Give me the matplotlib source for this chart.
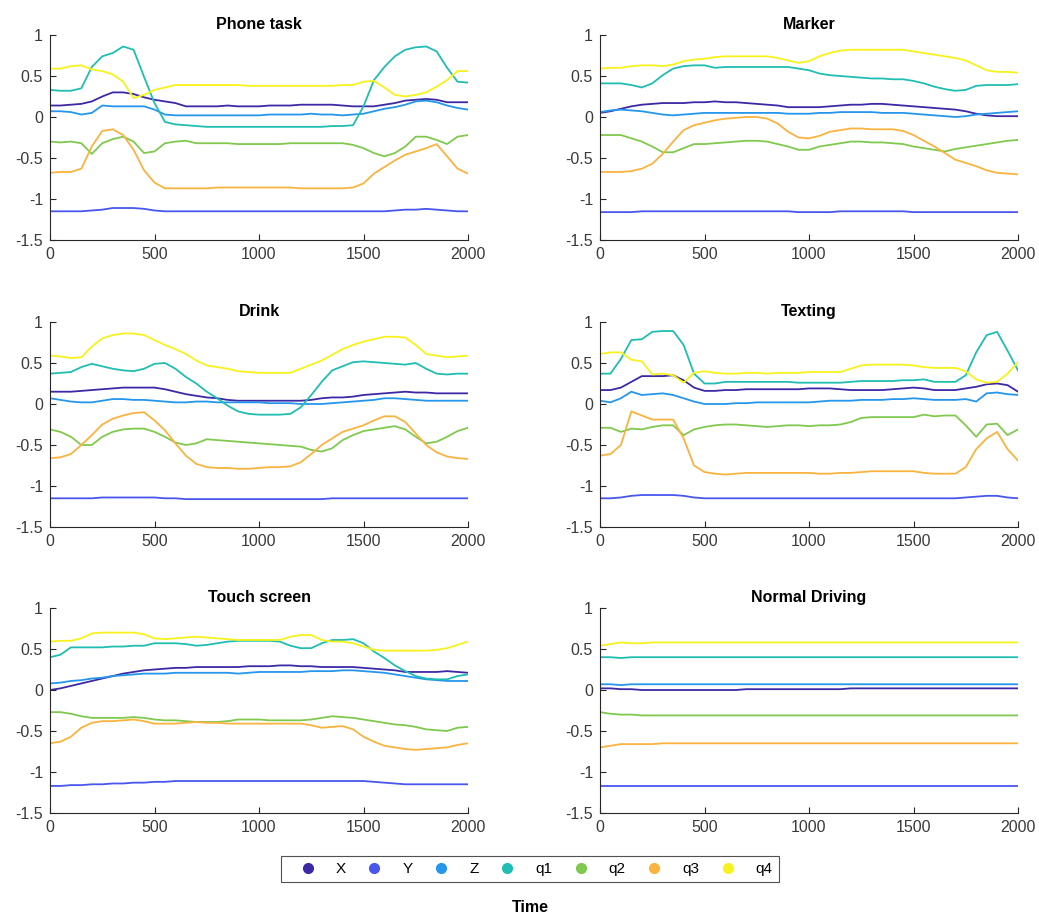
import numpy as np
import matplotlib
matplotlib.use("Agg")
import matplotlib.pyplot as plt
from matplotlib.lines import Line2D

plt.rcParams['font.family'] = ['Liberation Sans', 'DejaVu Sans']
plt.rcParams['axes.unicode_minus'] = False

# sample times shared by every panel (one reading every 50 samples)
t = np.arange(0, 2001, 50)

series_names = ["X", "Y", "Z", "q1", "q2", "q3", "q4"]
series_colors = ["#3d28a6", "#4856ee", "#2596ec", "#1fbdb2", "#80c94f", "#fbb33f", "#f7f21c"]
panel_titles = ["Phone task", "Marker", "Drink", "Texting", "Touch screen", "Normal Driving"]

# ---- Phone task ----
phone_X = [0.14, 0.14, 0.15, 0.16, 0.19, 0.25, 0.30, 0.30, 0.28, 0.24,
           0.21, 0.19, 0.17, 0.13, 0.13, 0.13, 0.13, 0.14, 0.13, 0.13,
           0.13, 0.14, 0.14, 0.14, 0.15, 0.15, 0.15, 0.15, 0.14, 0.13,
           0.13, 0.13, 0.15, 0.17, 0.20, 0.21, 0.22, 0.21, 0.18, 0.18,
           0.18]
phone_Y = [-1.15, -1.15, -1.15, -1.15, -1.14, -1.13, -1.11, -1.11, -1.11, -1.12,
           -1.14, -1.15, -1.15, -1.15, -1.15, -1.15, -1.15, -1.15, -1.15, -1.15,
           -1.15, -1.15, -1.15, -1.15, -1.15, -1.15, -1.15, -1.15, -1.15, -1.15,
           -1.15, -1.15, -1.15, -1.14, -1.13, -1.13, -1.12, -1.13, -1.14, -1.15,
           -1.15]
phone_Z = [0.07, 0.07, 0.06, 0.03, 0.05, 0.14, 0.13, 0.13, 0.13, 0.13,
           0.09, 0.03, 0.02, 0.02, 0.02, 0.02, 0.02, 0.02, 0.02, 0.02,
           0.02, 0.03, 0.03, 0.03, 0.03, 0.04, 0.03, 0.03, 0.02, 0.03,
           0.04, 0.07, 0.10, 0.12, 0.15, 0.19, 0.20, 0.18, 0.14, 0.11,
           0.09]
phone_q1 = [0.33, 0.32, 0.32, 0.35, 0.61, 0.74, 0.78, 0.86, 0.82, 0.49,
            0.17, -0.06, -0.09, -0.10, -0.11, -0.12, -0.12, -0.12, -0.12, -0.12,
            -0.12, -0.12, -0.12, -0.12, -0.12, -0.12, -0.12, -0.11, -0.11, -0.10,
            0.13, 0.45, 0.61, 0.74, 0.82, 0.85, 0.86, 0.80, 0.60, 0.43,
            0.42]
phone_q2 = [-0.30, -0.31, -0.30, -0.32, -0.45, -0.32, -0.27, -0.24, -0.30, -0.44,
            -0.42, -0.32, -0.30, -0.29, -0.32, -0.32, -0.32, -0.32, -0.33, -0.33,
            -0.33, -0.33, -0.33, -0.32, -0.32, -0.32, -0.32, -0.32, -0.32, -0.34,
            -0.38, -0.44, -0.48, -0.44, -0.36, -0.24, -0.24, -0.28, -0.33, -0.24,
            -0.22]
phone_q3 = [-0.68, -0.67, -0.67, -0.63, -0.36, -0.17, -0.15, -0.22, -0.40, -0.65,
            -0.80, -0.87, -0.87, -0.87, -0.87, -0.87, -0.86, -0.86, -0.86, -0.86,
            -0.86, -0.86, -0.86, -0.86, -0.87, -0.87, -0.87, -0.87, -0.87, -0.86,
            -0.81, -0.69, -0.61, -0.53, -0.46, -0.42, -0.38, -0.33, -0.48, -0.63,
            -0.69]
phone_q4 = [0.59, 0.59, 0.62, 0.63, 0.58, 0.56, 0.52, 0.43, 0.23, 0.27,
            0.33, 0.36, 0.39, 0.39, 0.39, 0.39, 0.39, 0.39, 0.39, 0.38,
            0.38, 0.38, 0.38, 0.38, 0.38, 0.38, 0.38, 0.38, 0.39, 0.39,
            0.43, 0.44, 0.36, 0.27, 0.25, 0.27, 0.30, 0.37, 0.45, 0.56,
            0.56]

# ---- Marker ----
marker_X = [0.05, 0.07, 0.10, 0.13, 0.15, 0.16, 0.17, 0.17, 0.17, 0.18,
            0.18, 0.19, 0.18, 0.18, 0.17, 0.16, 0.15, 0.14, 0.12, 0.12,
            0.12, 0.12, 0.13, 0.14, 0.15, 0.15, 0.16, 0.16, 0.15, 0.14,
            0.13, 0.12, 0.11, 0.10, 0.09, 0.07, 0.04, 0.02, 0.01, 0.01,
            0.01]
marker_Y = [-1.16, -1.16, -1.16, -1.16, -1.15, -1.15, -1.15, -1.15, -1.15, -1.15,
            -1.15, -1.15, -1.15, -1.15, -1.15, -1.15, -1.15, -1.15, -1.15, -1.16,
            -1.16, -1.16, -1.16, -1.15, -1.15, -1.15, -1.15, -1.15, -1.15, -1.15,
            -1.16, -1.16, -1.16, -1.16, -1.16, -1.16, -1.16, -1.16, -1.16, -1.16,
            -1.16]
marker_Z = [0.06, 0.08, 0.09, 0.08, 0.07, 0.05, 0.03, 0.02, 0.03, 0.04,
            0.05, 0.05, 0.05, 0.05, 0.05, 0.05, 0.05, 0.05, 0.04, 0.04,
            0.04, 0.05, 0.05, 0.06, 0.06, 0.06, 0.06, 0.05, 0.05, 0.05,
            0.04, 0.03, 0.02, 0.01, 0.00, 0.01, 0.03, 0.04, 0.05, 0.06,
            0.07]
marker_q1 = [0.41, 0.41, 0.41, 0.39, 0.36, 0.41, 0.51, 0.59, 0.62, 0.63,
             0.63, 0.60, 0.61, 0.61, 0.61, 0.61, 0.61, 0.61, 0.61, 0.59,
             0.57, 0.53, 0.51, 0.50, 0.49, 0.48, 0.47, 0.47, 0.46, 0.46,
             0.44, 0.41, 0.37, 0.34, 0.32, 0.33, 0.38, 0.39, 0.39, 0.39,
             0.40]
marker_q2 = [-0.22, -0.22, -0.22, -0.26, -0.30, -0.36, -0.43, -0.43, -0.38, -0.33,
             -0.33, -0.32, -0.31, -0.30, -0.29, -0.29, -0.30, -0.33, -0.36, -0.40,
             -0.40, -0.36, -0.34, -0.32, -0.30, -0.30, -0.31, -0.31, -0.32, -0.33,
             -0.36, -0.38, -0.40, -0.42, -0.39, -0.37, -0.35, -0.33, -0.31, -0.29,
             -0.28]
marker_q3 = [-0.67, -0.67, -0.67, -0.66, -0.63, -0.57, -0.45, -0.30, -0.16, -0.10,
             -0.07, -0.04, -0.02, -0.01, 0.00, 0.00, -0.02, -0.08, -0.18, -0.25,
             -0.26, -0.23, -0.18, -0.16, -0.14, -0.14, -0.15, -0.15, -0.15, -0.17,
             -0.22, -0.29, -0.36, -0.44, -0.52, -0.56, -0.60, -0.65, -0.68, -0.69,
             -0.70]
marker_q4 = [0.59, 0.60, 0.60, 0.62, 0.63, 0.63, 0.62, 0.64, 0.68, 0.70,
             0.71, 0.73, 0.74, 0.74, 0.74, 0.74, 0.74, 0.72, 0.69, 0.66,
             0.68, 0.74, 0.78, 0.81, 0.82, 0.82, 0.82, 0.82, 0.82, 0.82,
             0.80, 0.78, 0.76, 0.74, 0.72, 0.69, 0.63, 0.57, 0.55, 0.55,
             0.54]

# ---- Drink ----
drink_X = [0.15, 0.15, 0.15, 0.16, 0.17, 0.18, 0.19, 0.20, 0.20, 0.20,
           0.20, 0.18, 0.15, 0.12, 0.10, 0.08, 0.07, 0.05, 0.04, 0.04,
           0.04, 0.04, 0.04, 0.04, 0.04, 0.05, 0.07, 0.08, 0.08, 0.09,
           0.11, 0.12, 0.13, 0.14, 0.15, 0.14, 0.14, 0.13, 0.13, 0.13,
           0.13]
drink_Y = [-1.15, -1.15, -1.15, -1.15, -1.15, -1.14, -1.14, -1.14, -1.14, -1.14,
           -1.14, -1.15, -1.15, -1.16, -1.16, -1.16, -1.16, -1.16, -1.16, -1.16,
           -1.16, -1.16, -1.16, -1.16, -1.16, -1.16, -1.16, -1.15, -1.15, -1.15,
           -1.15, -1.15, -1.15, -1.15, -1.15, -1.15, -1.15, -1.15, -1.15, -1.15,
           -1.15]
drink_Z = [0.07, 0.05, 0.03, 0.02, 0.02, 0.04, 0.06, 0.06, 0.05, 0.05,
           0.04, 0.03, 0.02, 0.02, 0.03, 0.03, 0.02, 0.02, 0.02, 0.02,
           0.02, 0.01, 0.01, 0.01, 0.00, 0.00, 0.00, 0.01, 0.02, 0.03,
           0.04, 0.05, 0.07, 0.07, 0.06, 0.05, 0.04, 0.04, 0.04, 0.04,
           0.04]
drink_q1 = [0.37, 0.38, 0.39, 0.45, 0.49, 0.46, 0.43, 0.41, 0.40, 0.43,
            0.49, 0.50, 0.43, 0.33, 0.25, 0.15, 0.07, -0.02, -0.09, -0.12,
            -0.13, -0.13, -0.13, -0.12, -0.04, 0.11, 0.27, 0.41, 0.46, 0.51,
            0.52, 0.51, 0.50, 0.49, 0.48, 0.50, 0.43, 0.37, 0.36, 0.37,
            0.37]
drink_q2 = [-0.31, -0.34, -0.40, -0.50, -0.50, -0.40, -0.34, -0.31, -0.30, -0.30,
            -0.34, -0.40, -0.47, -0.50, -0.48, -0.43, -0.44, -0.45, -0.46, -0.47,
            -0.48, -0.49, -0.50, -0.51, -0.52, -0.56, -0.58, -0.54, -0.44, -0.38,
            -0.33, -0.31, -0.29, -0.27, -0.31, -0.40, -0.48, -0.46, -0.40, -0.33,
            -0.29]
drink_q3 = [-0.66, -0.65, -0.61, -0.50, -0.38, -0.25, -0.18, -0.14, -0.11, -0.10,
            -0.20, -0.32, -0.48, -0.63, -0.73, -0.77, -0.78, -0.78, -0.79, -0.79,
            -0.78, -0.77, -0.77, -0.76, -0.71, -0.61, -0.50, -0.42, -0.34, -0.30,
            -0.26, -0.20, -0.15, -0.15, -0.22, -0.36, -0.50, -0.59, -0.64, -0.66,
            -0.67]
drink_q4 = [0.59, 0.58, 0.56, 0.57, 0.70, 0.80, 0.84, 0.86, 0.86, 0.84,
            0.78, 0.72, 0.67, 0.61, 0.53, 0.47, 0.45, 0.43, 0.40, 0.39,
            0.38, 0.38, 0.38, 0.38, 0.43, 0.48, 0.53, 0.60, 0.67, 0.72,
            0.76, 0.79, 0.82, 0.82, 0.81, 0.72, 0.61, 0.59, 0.57, 0.58,
            0.59]

# ---- Texting ----
text_X = [0.17, 0.17, 0.20, 0.27, 0.34, 0.34, 0.34, 0.35, 0.29, 0.20,
          0.16, 0.16, 0.17, 0.17, 0.18, 0.18, 0.18, 0.18, 0.18, 0.18,
          0.19, 0.19, 0.19, 0.18, 0.17, 0.17, 0.17, 0.17, 0.18, 0.19,
          0.20, 0.19, 0.17, 0.17, 0.17, 0.19, 0.21, 0.24, 0.25, 0.23,
          0.15]
text_Y = [-1.15, -1.15, -1.14, -1.12, -1.11, -1.11, -1.11, -1.11, -1.12, -1.14,
          -1.15, -1.15, -1.15, -1.15, -1.15, -1.15, -1.15, -1.15, -1.15, -1.15,
          -1.15, -1.15, -1.15, -1.15, -1.15, -1.15, -1.15, -1.15, -1.15, -1.15,
          -1.15, -1.15, -1.15, -1.15, -1.15, -1.14, -1.13, -1.12, -1.12, -1.14,
          -1.15]
text_Z = [0.04, 0.02, 0.07, 0.15, 0.11, 0.12, 0.13, 0.11, 0.07, 0.03,
          0.00, 0.00, 0.00, 0.01, 0.01, 0.02, 0.02, 0.02, 0.02, 0.02,
          0.02, 0.03, 0.04, 0.04, 0.04, 0.05, 0.05, 0.05, 0.06, 0.06,
          0.07, 0.06, 0.05, 0.05, 0.05, 0.06, 0.03, 0.13, 0.14, 0.12,
          0.11]
text_q1 = [0.37, 0.37, 0.55, 0.78, 0.79, 0.88, 0.89, 0.89, 0.72, 0.37,
           0.25, 0.25, 0.27, 0.27, 0.27, 0.27, 0.27, 0.27, 0.27, 0.26,
           0.26, 0.26, 0.26, 0.26, 0.27, 0.28, 0.28, 0.28, 0.28, 0.29,
           0.29, 0.30, 0.27, 0.27, 0.27, 0.35, 0.63, 0.84, 0.88, 0.65,
           0.41]
text_q2 = [-0.29, -0.29, -0.34, -0.30, -0.31, -0.28, -0.26, -0.26, -0.38, -0.31,
           -0.28, -0.26, -0.25, -0.25, -0.26, -0.27, -0.28, -0.27, -0.26, -0.26,
           -0.27, -0.26, -0.26, -0.25, -0.22, -0.17, -0.16, -0.16, -0.16, -0.16,
           -0.16, -0.13, -0.15, -0.14, -0.14, -0.26, -0.40, -0.25, -0.24, -0.38,
           -0.31]
text_q3 = [-0.63, -0.61, -0.50, -0.09, -0.14, -0.19, -0.19, -0.19, -0.42, -0.75,
           -0.83, -0.85, -0.86, -0.85, -0.84, -0.84, -0.84, -0.84, -0.84, -0.84,
           -0.84, -0.85, -0.85, -0.84, -0.84, -0.83, -0.82, -0.82, -0.82, -0.82,
           -0.82, -0.84, -0.85, -0.85, -0.85, -0.77, -0.55, -0.42, -0.34, -0.55,
           -0.69]
text_q4 = [0.61, 0.63, 0.63, 0.54, 0.52, 0.36, 0.37, 0.35, 0.26, 0.38,
           0.40, 0.38, 0.37, 0.37, 0.38, 0.38, 0.37, 0.38, 0.38, 0.38,
           0.39, 0.39, 0.39, 0.39, 0.43, 0.47, 0.48, 0.48, 0.48, 0.48,
           0.47, 0.45, 0.44, 0.44, 0.44, 0.40, 0.30, 0.26, 0.27, 0.37,
           0.51]

# ---- Touch screen ----
touch_X = [0.00, 0.02, 0.05, 0.08, 0.11, 0.14, 0.17, 0.20, 0.22, 0.24,
           0.25, 0.26, 0.27, 0.27, 0.28, 0.28, 0.28, 0.28, 0.28, 0.29,
           0.29, 0.29, 0.30, 0.30, 0.29, 0.29, 0.28, 0.28, 0.28, 0.28,
           0.27, 0.26, 0.25, 0.24, 0.22, 0.22, 0.22, 0.22, 0.23, 0.22,
           0.21]
touch_Y = [-1.17, -1.17, -1.16, -1.16, -1.15, -1.15, -1.14, -1.14, -1.13, -1.13,
           -1.12, -1.12, -1.11, -1.11, -1.11, -1.11, -1.11, -1.11, -1.11, -1.11,
           -1.11, -1.11, -1.11, -1.11, -1.11, -1.11, -1.11, -1.11, -1.11, -1.11,
           -1.11, -1.12, -1.13, -1.14, -1.15, -1.15, -1.15, -1.15, -1.15, -1.15,
           -1.15]
touch_Z = [0.08, 0.09, 0.11, 0.12, 0.14, 0.15, 0.17, 0.18, 0.19, 0.20,
           0.20, 0.20, 0.21, 0.21, 0.21, 0.21, 0.21, 0.21, 0.20, 0.21,
           0.22, 0.22, 0.22, 0.22, 0.22, 0.23, 0.23, 0.23, 0.24, 0.24,
           0.23, 0.22, 0.21, 0.19, 0.17, 0.15, 0.13, 0.12, 0.11, 0.11,
           0.11]
touch_q1 = [0.40, 0.43, 0.52, 0.52, 0.52, 0.52, 0.53, 0.53, 0.54, 0.54,
            0.57, 0.57, 0.57, 0.56, 0.54, 0.55, 0.57, 0.59, 0.60, 0.60,
            0.60, 0.60, 0.59, 0.54, 0.51, 0.51, 0.57, 0.61, 0.61, 0.62,
            0.57, 0.47, 0.39, 0.30, 0.23, 0.17, 0.14, 0.13, 0.13, 0.17,
            0.19]
touch_q2 = [-0.27, -0.27, -0.29, -0.32, -0.34, -0.34, -0.34, -0.34, -0.33, -0.34,
            -0.36, -0.37, -0.37, -0.38, -0.39, -0.39, -0.39, -0.38, -0.36, -0.36,
            -0.36, -0.37, -0.37, -0.37, -0.37, -0.36, -0.34, -0.32, -0.33, -0.34,
            -0.36, -0.38, -0.40, -0.42, -0.43, -0.45, -0.48, -0.49, -0.50, -0.46,
            -0.45]
touch_q3 = [-0.65, -0.63, -0.57, -0.46, -0.40, -0.38, -0.38, -0.37, -0.36, -0.38,
            -0.41, -0.41, -0.41, -0.40, -0.39, -0.40, -0.40, -0.41, -0.41, -0.41,
            -0.41, -0.41, -0.41, -0.41, -0.41, -0.43, -0.46, -0.45, -0.44, -0.48,
            -0.57, -0.63, -0.68, -0.70, -0.72, -0.73, -0.72, -0.71, -0.70, -0.67,
            -0.65]
touch_q4 = [0.59, 0.60, 0.60, 0.63, 0.69, 0.70, 0.70, 0.70, 0.70, 0.68,
            0.63, 0.62, 0.63, 0.64, 0.65, 0.64, 0.63, 0.62, 0.61, 0.61,
            0.61, 0.61, 0.61, 0.65, 0.67, 0.67, 0.61, 0.59, 0.59, 0.57,
            0.53, 0.49, 0.48, 0.48, 0.48, 0.48, 0.48, 0.49, 0.51, 0.55,
            0.59]

# ---- Normal Driving ----
norm_X = [0.02, 0.02, 0.01, 0.01, 0.00, 0.00, 0.00, 0.00, 0.00, 0.00,
          0.00, 0.00, 0.00, 0.00, 0.01, 0.01, 0.01, 0.01, 0.01, 0.01,
          0.01, 0.01, 0.01, 0.01, 0.02, 0.02, 0.02, 0.02, 0.02, 0.02,
          0.02, 0.02, 0.02, 0.02, 0.02, 0.02, 0.02, 0.02, 0.02, 0.02,
          0.02]
norm_Y = [-1.17, -1.17, -1.17, -1.17, -1.17, -1.17, -1.17, -1.17, -1.17, -1.17,
          -1.17, -1.17, -1.17, -1.17, -1.17, -1.17, -1.17, -1.17, -1.17, -1.17,
          -1.17, -1.17, -1.17, -1.17, -1.17, -1.17, -1.17, -1.17, -1.17, -1.17,
          -1.17, -1.17, -1.17, -1.17, -1.17, -1.17, -1.17, -1.17, -1.17, -1.17,
          -1.17]
norm_Z = [0.07, 0.07, 0.06, 0.07, 0.07, 0.07, 0.07, 0.07, 0.07, 0.07,
          0.07, 0.07, 0.07, 0.07, 0.07, 0.07, 0.07, 0.07, 0.07, 0.07,
          0.07, 0.07, 0.07, 0.07, 0.07, 0.07, 0.07, 0.07, 0.07, 0.07,
          0.07, 0.07, 0.07, 0.07, 0.07, 0.07, 0.07, 0.07, 0.07, 0.07,
          0.07]
norm_q1 = [0.40, 0.40, 0.39, 0.40, 0.40, 0.40, 0.40, 0.40, 0.40, 0.40,
           0.40, 0.40, 0.40, 0.40, 0.40, 0.40, 0.40, 0.40, 0.40, 0.40,
           0.40, 0.40, 0.40, 0.40, 0.40, 0.40, 0.40, 0.40, 0.40, 0.40,
           0.40, 0.40, 0.40, 0.40, 0.40, 0.40, 0.40, 0.40, 0.40, 0.40,
           0.40]
norm_q2 = [-0.27, -0.29, -0.30, -0.30, -0.31, -0.31, -0.31, -0.31, -0.31, -0.31,
           -0.31, -0.31, -0.31, -0.31, -0.31, -0.31, -0.31, -0.31, -0.31, -0.31,
           -0.31, -0.31, -0.31, -0.31, -0.31, -0.31, -0.31, -0.31, -0.31, -0.31,
           -0.31, -0.31, -0.31, -0.31, -0.31, -0.31, -0.31, -0.31, -0.31, -0.31,
           -0.31]
norm_q3 = [-0.70, -0.68, -0.66, -0.66, -0.66, -0.66, -0.65, -0.65, -0.65, -0.65,
           -0.65, -0.65, -0.65, -0.65, -0.65, -0.65, -0.65, -0.65, -0.65, -0.65,
           -0.65, -0.65, -0.65, -0.65, -0.65, -0.65, -0.65, -0.65, -0.65, -0.65,
           -0.65, -0.65, -0.65, -0.65, -0.65, -0.65, -0.65, -0.65, -0.65, -0.65,
           -0.65]
norm_q4 = [0.54, 0.56, 0.58, 0.57, 0.57, 0.58, 0.58, 0.58, 0.58, 0.58,
           0.58, 0.58, 0.58, 0.58, 0.58, 0.58, 0.58, 0.58, 0.58, 0.58,
           0.58, 0.58, 0.58, 0.58, 0.58, 0.58, 0.58, 0.58, 0.58, 0.58,
           0.58, 0.58, 0.58, 0.58, 0.58, 0.58, 0.58, 0.58, 0.58, 0.58,
           0.58]

panels = [
    [phone_X, phone_Y, phone_Z, phone_q1, phone_q2, phone_q3, phone_q4],
    [marker_X, marker_Y, marker_Z, marker_q1, marker_q2, marker_q3, marker_q4],
    [drink_X, drink_Y, drink_Z, drink_q1, drink_q2, drink_q3, drink_q4],
    [text_X, text_Y, text_Z, text_q1, text_q2, text_q3, text_q4],
    [touch_X, touch_Y, touch_Z, touch_q1, touch_q2, touch_q3, touch_q4],
    [norm_X, norm_Y, norm_Z, norm_q1, norm_q2, norm_q3, norm_q4],
]

W, H = 1039, 916
fig = plt.figure(figsize=(W / 100, H / 100), dpi=100)

# axes boxes in pixels: (left, right) and (top, bottom)
col_x = [(50, 468), (600, 1018)]
row_y = [(35, 240), (322, 527), (608, 813)]
axis_col = "#262626"

for i, (title, data) in enumerate(zip(panel_titles, panels)):
    r, c = divmod(i, 2)
    x0, x1 = col_x[c]
    y0, y1 = row_y[r]
    ax = fig.add_axes([x0 / W, 1 - y1 / H, (x1 - x0) / W, (y1 - y0) / H])
    for vals, col in zip(data, series_colors):
        ax.plot(t, vals, color=col, lw=1.3)
    ax.set_xlim(0, 2000)
    ax.set_ylim(-1.5, 1)
    ax.set_xticks([0, 500, 1000, 1500, 2000])
    ax.set_yticks([-1.5, -1, -0.5, 0, 0.5, 1])
    ax.set_yticklabels(["-1.5", "-1", "-0.5", "0", "0.5", "1"])
    ax.spines["top"].set_visible(False)
    ax.spines["right"].set_visible(False)
    for s in ("left", "bottom"):
        ax.spines[s].set_color(axis_col)
        ax.spines[s].set_linewidth(0.8)
    ax.tick_params(direction="in", length=4, width=0.8, colors=axis_col,
                   labelsize=11.5, pad=5)
    ax.tick_params(labelcolor="#3a3a3a")
    ax.set_title(title, fontsize=11.5, fontweight="bold", pad=4)

handles = [Line2D([], [], linestyle="none", marker="o", markersize=7,
                  markerfacecolor=col, markeredgecolor=col)
           for col in series_colors]
leg = fig.legend(handles, series_names, loc="center", ncol=7,
                 bbox_to_anchor=(530 / W, 1 - 869 / H), frameon=True,
                 fancybox=False, fontsize=11, handletextpad=0.5,
                 columnspacing=0.5, borderpad=0.4, handlelength=2.7)
leg.get_frame().set_edgecolor("#262626")
leg.get_frame().set_linewidth(0.8)

fig.text(530 / W, 1 - 907 / H, "Time", ha="center", va="center",
         fontsize=11.5, fontweight="bold")

fig.savefig("out.png", dpi=100, facecolor="white")
